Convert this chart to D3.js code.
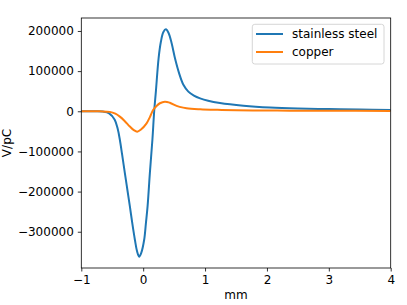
<!DOCTYPE html>
<html>
<head>
    <meta charset="utf-8">
    <script src="https://d3js.org/d3.v7.min.js"></script>
    <title>V/pC</title>
    <style>
        body { margin: 0; background: white; }
        svg text { font-family: "DejaVu Sans", sans-serif; font-size: 12px; fill: black; }
    </style>
</head>
<body>
    <svg id="chart"></svg>
    <script>
        // values (mm, V/pC)
        var steelX = [-1, -0.8, -0.65, -0.55, -0.46, -0.41, -0.377, -0.34, -0.296, -0.255, -0.215, -0.175, -0.134, -0.1, -0.065, -0.03, 0.016, 0.044, 0.071, 0.108, 0.149, 0.178, 0.205, 0.249, 0.286, 0.325, 0.367, 0.41, 0.459, 0.517, 0.58, 0.65, 0.73, 0.82, 0.92, 1.05, 1.24, 1.62, 2.05, 2.5, 3, 3.5, 4]
        var steelV = [0, -100, -800, -5000, -21000, -45000, -71000, -108000, -154000, -196000, -237000, -280000, -320000, -348000, -362000, -352000, -320000, -279000, -237000, -154000, -71000, 0, 49000, 132000, 173000, 197000, 204000, 195000, 170000, 130000, 95000, 66000, 49000, 39000, 32000, 26000, 20500, 14000, 9500, 7000, 5500, 4300, 3200]

        var copperX = [-1, -0.7, -0.54, -0.45, -0.377, -0.3, -0.215, -0.15, -0.097, -0.04, 0.055, 0.11, 0.16, 0.22, 0.27, 0.35, 0.43, 0.54, 0.59, 0.7, 0.92, 1.2, 1.51, 2, 2.37, 3, 4]
        var copperV = [0, -200, -1500, -6000, -13400, -24000, -38000, -47000, -50700, -46000, -30000, -14000, 3000, 14000, 20000, 24000, 21400, 13500, 11000, 7500, 5000, 3500, 2500, 2000, 1500, 1200, 1000]

        var xTicks = [-1, 0, 1, 2, 3, 4]
        var yTicks = [-300000, -200000, -100000, 0, 100000, 200000]
        var seriesNames = ['stainless steel', 'copper']
        var colors = ['#1f77b4', '#ff7f0e']

        var width = 407, height = 305
        var margin = {top: 18, right: 16.3, bottom: 37, left: 81.3}

        var svg = d3.select('#chart').attr('width', width).attr('height', height)

        var x = d3.scaleLinear().domain([-1, 4]).range([margin.left, width - margin.right])
        var y = d3.scaleLinear().domain([-390300, 232300]).range([height - margin.bottom, margin.top])

        // curves
        var series = [
            d3.zip(steelX, steelV),
            d3.zip(copperX, copperV)
        ]
        var line = d3.line()
            .x(function (d) { return x(d[0]) })
            .y(function (d) { return y(d[1]) })
            .curve(d3.curveCatmullRom.alpha(0.5))

        svg.append('defs').append('clipPath').attr('id', 'clip')
            .append('rect')
            .attr('x', margin.left).attr('y', margin.top)
            .attr('width', width - margin.left - margin.right)
            .attr('height', height - margin.top - margin.bottom)

        svg.append('g').attr('clip-path', 'url(#clip)')
            .selectAll('path').data(series).enter().append('path')
            .attr('d', line)
            .attr('fill', 'none')
            .attr('stroke', function (d, i) { return colors[i] })
            .attr('stroke-width', 2)
            .attr('stroke-linejoin', 'round')

        // axes
        var fmt = d3.format('d')
        svg.append('g')
            .attr('transform', 'translate(0,' + (height - margin.bottom) + ')')
            .call(d3.axisBottom(x).tickValues(xTicks).tickSize(3.5).tickPadding(4).tickFormat(function (d) { return fmt(d) }))
        svg.append('g')
            .attr('transform', 'translate(' + margin.left + ',0)')
            .call(d3.axisLeft(y).tickValues(yTicks).tickSize(3.5).tickPadding(4).tickFormat(function (d) { return fmt(d) }))

        svg.selectAll('.domain').remove()
        svg.selectAll('.tick line').attr('stroke', 'black').attr('stroke-width', 0.8)
        svg.selectAll('.tick text').attr('font-size', 12).attr('font-family', '"DejaVu Sans", sans-serif').attr('fill', 'black')

        // frame
        svg.append('rect')
            .attr('x', margin.left).attr('y', margin.top)
            .attr('width', width - margin.left - margin.right)
            .attr('height', height - margin.top - margin.bottom)
            .attr('fill', 'none').attr('stroke', 'black').attr('stroke-width', 0.8)

        // labels
        svg.append('text')
            .attr('x', (margin.left + width - margin.right) / 2)
            .attr('y', 299)
            .attr('text-anchor', 'middle')
            .text('mm')
        svg.append('text')
            .attr('transform', 'translate(10.5,' + ((margin.top + height - margin.bottom) / 2) + ') rotate(-90)')
            .attr('text-anchor', 'middle')
            .text('V/pC')

        // legend
        var legend = svg.append('g')
        legend.append('rect')
            .attr('x', 252.3).attr('y', 24.3)
            .attr('width', 131.7).attr('height', 39.7)
            .attr('rx', 2.5)
            .attr('fill', 'white').attr('fill-opacity', 0.8)
            .attr('stroke', '#cccccc').attr('stroke-width', 0.8)
        seriesNames.forEach(function (name, i) {
            var ly = 34 + i * 18
            legend.append('line')
                .attr('x1', 256).attr('x2', 283)
                .attr('y1', ly).attr('y2', ly)
                .attr('stroke', colors[i]).attr('stroke-width', 2)
            legend.append('text')
                .attr('x', 292).attr('y', ly + 4.3)
                .text(name)
        })
    </script>
</body>
</html>
